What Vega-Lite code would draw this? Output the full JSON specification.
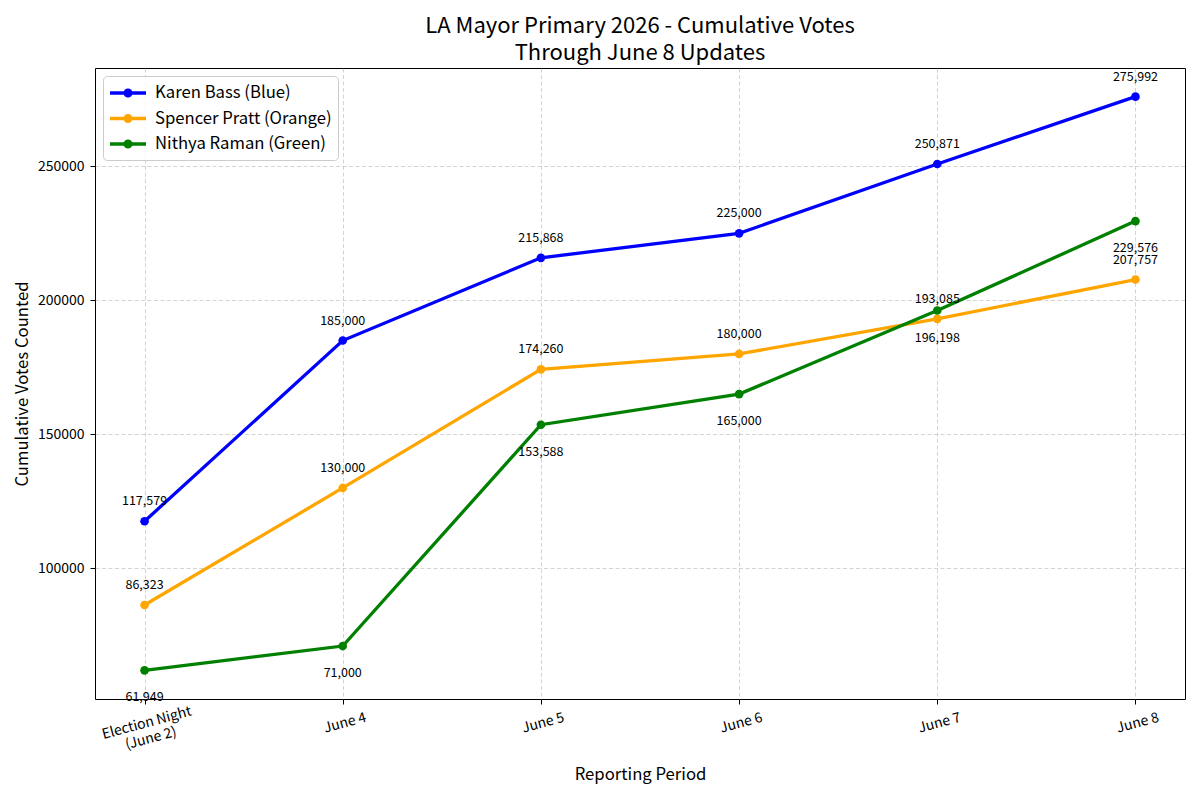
{
  "$schema": "https://vega.github.io/schema/vega-lite/v6.json",
  "width": 1090,
  "height": 631,
  "autosize": "none",
  "padding": {"left": 95, "top": 68, "right": 15, "bottom": 101},
  "background": "white",
  "title": {
    "text": ["LA Mayor Primary 2026 - Cumulative Votes", "Through June 8 Updates"],
    "fontSize": 22,
    "font": "Noto Sans CJK SC",
    "fontWeight": "normal",
    "color": "black",
    "anchor": "middle",
    "frame": "group",
    "lineHeight": 27,
    "offset": 3
  },
  "config": {
    "font": "Noto Sans CJK SC",
    "view": {"stroke": "black", "strokeWidth": 1}
  },
  "data": {
    "values": [
      {"period": "Election Night\n(June 2)", "candidate": "Karen Bass (Blue)", "votes": 117579},
      {"period": "June 4", "candidate": "Karen Bass (Blue)", "votes": 185000},
      {"period": "June 5", "candidate": "Karen Bass (Blue)", "votes": 215868},
      {"period": "June 6", "candidate": "Karen Bass (Blue)", "votes": 225000},
      {"period": "June 7", "candidate": "Karen Bass (Blue)", "votes": 250871},
      {"period": "June 8", "candidate": "Karen Bass (Blue)", "votes": 275992},
      {"period": "Election Night\n(June 2)", "candidate": "Spencer Pratt (Orange)", "votes": 86323},
      {"period": "June 4", "candidate": "Spencer Pratt (Orange)", "votes": 130000},
      {"period": "June 5", "candidate": "Spencer Pratt (Orange)", "votes": 174260},
      {"period": "June 6", "candidate": "Spencer Pratt (Orange)", "votes": 180000},
      {"period": "June 7", "candidate": "Spencer Pratt (Orange)", "votes": 193085},
      {"period": "June 8", "candidate": "Spencer Pratt (Orange)", "votes": 207757},
      {"period": "Election Night\n(June 2)", "candidate": "Nithya Raman (Green)", "votes": 61949},
      {"period": "June 4", "candidate": "Nithya Raman (Green)", "votes": 71000},
      {"period": "June 5", "candidate": "Nithya Raman (Green)", "votes": 153588},
      {"period": "June 6", "candidate": "Nithya Raman (Green)", "votes": 165000},
      {"period": "June 7", "candidate": "Nithya Raman (Green)", "votes": 196198},
      {"period": "June 8", "candidate": "Nithya Raman (Green)", "votes": 229576}
    ]
  },
  "encoding": {
    "x": {
      "field": "period",
      "type": "nominal",
      "sort": ["Election Night\n(June 2)", "June 4", "June 5", "June 6", "June 7", "June 8"],
      "scale": {"type": "point", "padding": 0.25},
      "axis": {
        "title": "Reporting Period",
        "titleFontSize": 16.7,
        "titleFontWeight": "normal",
        "titleColor": "black",
        "titlePadding": 10,
        "labelExpr": "split(datum.label, '\\n')",
        "labelAngle": -15,
        "labelAlign": "center",
        "labelBaseline": "top",
        "labelFontSize": 14,
        "labelColor": "black",
        "labelPadding": 12,
        "labelOverlap": false,
        "labelFlush": false,
        "labelLineHeight": 16,
        "tickColor": "black",
        "tickSize": 5,
        "domain": false,
        "grid": true,
        "gridColor": "#b0b0b0",
        "gridOpacity": 0.7,
        "gridDash": [4, 2.5],
        "gridWidth": 0.8
      }
    },
    "y": {
      "field": "votes",
      "type": "quantitative",
      "scale": {"domain": [51247, 286694], "nice": false, "zero": false},
      "axis": {
        "title": "Cumulative Votes Counted",
        "titleFontSize": 16.7,
        "titleFontWeight": "normal",
        "titleColor": "black",
        "titlePadding": 6,
        "values": [100000, 150000, 200000, 250000],
        "format": "d",
        "labelFontSize": 14,
        "labelColor": "black",
        "labelPadding": 6,
        "tickColor": "black",
        "tickSize": 5,
        "domain": false,
        "grid": true,
        "gridColor": "#b0b0b0",
        "gridOpacity": 0.7,
        "gridDash": [4, 2.5],
        "gridWidth": 0.8
      }
    },
    "color": {
      "field": "candidate",
      "type": "nominal",
      "scale": {
        "domain": ["Karen Bass (Blue)", "Spencer Pratt (Orange)", "Nithya Raman (Green)"],
        "range": ["#0000ff", "#ffa500", "#008000"]
      },
      "legend": {
        "title": null,
        "orient": "none",
        "legendX": 8,
        "legendY": 8,
        "labelFontSize": 16.7,
        "labelColor": "black",
        "labelLimit": 400,
        "labelOffset": 16,
        "fillColor": "rgba(255,255,255,0.8)",
        "strokeColor": "#cccccc",
        "cornerRadius": 4,
        "padding": 6,
        "rowPadding": 4.5,
        "symbolOffset": 8,
        "symbolType": "M-2,0H2M0.32,0A0.32,0.32,0,1,1,-0.32,0A0.32,0.32,0,1,1,0.32,0Z",
        "symbolSize": 324,
        "symbolStrokeWidth": 3.3,
        "encode": {
          "symbols": {
            "update": {
              "fill": {"scale": "color", "field": "value"},
              "stroke": {"scale": "color", "field": "value"},
              "strokeWidth": {"value": 3.3},
              "opacity": {"value": 1}
            }
          }
        }
      }
    }
  },
  "layer": [
    {"mark": {"type": "line", "strokeWidth": 3.3}},
    {"mark": {"type": "point", "filled": true, "size": 75, "opacity": 1}},
    {
      "transform": [{"filter": "datum.candidate != 'Nithya Raman (Green)'"}],
      "mark": {"type": "text", "dy": -16, "baseline": "alphabetic", "align": "center", "fontSize": 12.5},
      "encoding": {
        "text": {"field": "votes", "type": "quantitative", "format": ","},
        "color": {"value": "black"}
      }
    },
    {
      "transform": [{"filter": "datum.candidate == 'Nithya Raman (Green)'"}],
      "mark": {"type": "text", "dy": 31, "baseline": "alphabetic", "align": "center", "fontSize": 12.5},
      "encoding": {
        "text": {"field": "votes", "type": "quantitative", "format": ","},
        "color": {"value": "black"}
      }
    }
  ]
}
